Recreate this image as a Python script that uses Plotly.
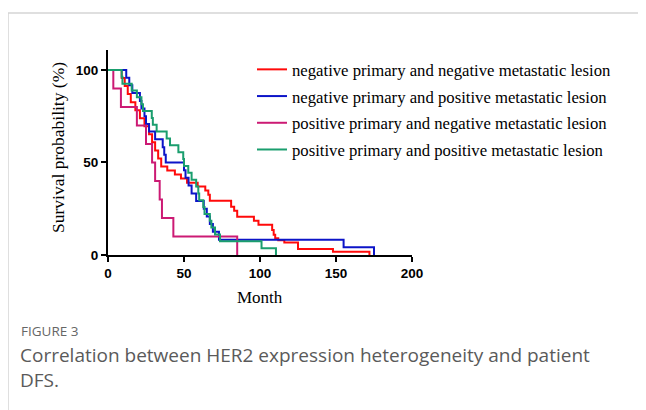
import plotly.graph_objects as go

# ---- data ----
names = [
    "negative primary and negative metastatic lesion",
    "negative primary and positive metastatic lesion",
    "positive primary and negative metastatic lesion",
    "positive primary and positive metastatic lesion",
]
colors = ["#ff0a0a", "#0c14c8", "#cc1a74", "#1a9e6e"]

red_t = [0, 9, 11, 13, 15, 18, 21, 24, 27, 29, 31, 33, 35, 39, 44, 48, 52, 59, 64, 66, 67,
         81, 83, 85, 96, 99, 108, 109, 110, 112, 116, 125, 148, 172]
red_s = [100, 95.7, 91.3, 87, 82.6, 78.3, 73.9, 69.6, 65.2, 60.9, 56.5, 52.2, 47.8, 45.7, 43.5,
         41.3, 39.1, 37, 34.8, 32.6, 29.3, 26.1, 23.9, 20.7, 18.5, 16.3, 13.5, 10.9, 9.0, 8.0,
         6.8, 3.3, 1.8, 0]

blue_t = [0, 12, 14, 16, 21, 22, 24, 25, 27, 31, 36, 37, 38, 50, 51, 53, 55, 58, 63, 65, 67,
          69, 73, 155, 175]
blue_s = [100, 95.8, 91.7, 87.5, 83.3, 79.2, 75, 70.8, 66.7, 62.5, 58.3, 54.2, 50, 45.8, 41.7,
          37.5, 33.3, 29.2, 25, 20.8, 16.7, 12.5, 8.3, 4.2, 0]

mag_t = [0, 3.5, 8.5, 19, 25, 29, 31, 34, 35.5, 43, 85]
mag_s = [100, 90, 80, 70, 60, 50, 40, 30, 20, 10, 0]

grn_t = [0, 9, 9.5, 15.6, 19, 22, 23, 28.8, 29.5, 32, 38.6, 40.8, 46.3, 49.5, 50, 52.8, 55,
         58, 59.4, 60, 62.7, 63.5, 67, 68, 70.4, 73.7, 101, 110.5]
grn_s = [100, 96.3, 92.6, 88.9, 85.2, 81.5, 77.8, 74.1, 70.4, 66.7, 63, 59.3, 55.6, 51.9,
         48.1, 44.4, 40.7, 37, 33.3, 29.6, 25.9, 22.2, 18.5, 14.8, 11.1, 7.4, 3.7, 0]

x_ticks = [0, 50, 100, 150, 200]
y_ticks = [0, 50, 100]

series = [(red_t, red_s), (blue_t, blue_s), (mag_t, mag_s), (grn_t, grn_s)]

# ---- figure ----
W, H = 646, 410
OFF = 8  # page body margin
# plot area in screen pixels: x 108..412, y 50..255
L = 108 - OFF
T = 50 - OFF
R = W - (412 - OFF)
B = H - (255 - OFF)
PW, PH = W - L - R, H - T - B


def px(x):
    return (x - OFF - L) / PW


def py(y):
    return (H - B - (y - OFF)) / PH


fig = go.Figure()
for i, ((t, s), nm, c) in enumerate(zip(series, names, colors)):
    fig.add_trace(go.Scatter(
        x=t, y=s, mode="lines", line=dict(color=c, width=2, shape="hv"),
        name=nm, legendgroup=f"g{i}",
    ))

axis_common = dict(
    showline=True, linecolor="black", linewidth=2, ticks="outside", ticklen=5,
    tickwidth=2, tickcolor="black", showgrid=False, zeroline=False,
    tickfont=dict(family="Liberation Sans", size=13.5, color="black", weight="bold"),
)

fig.update_layout(
    width=W, height=H, margin=dict(l=L, r=R, t=T, b=B, pad=0),
    paper_bgcolor="white", plot_bgcolor="white",
    xaxis=dict(range=[0, 200], tickvals=x_ticks, **axis_common),
    yaxis=dict(range=[0, 110.8], tickvals=y_ticks, **axis_common),
    legend=dict(
        x=px(252), y=py(52), xanchor="left", yanchor="top",
        font=dict(family="Liberation Serif", size=16.7, color="black"),
        tracegroupgap=2, bgcolor="rgba(0,0,0,0)", itemwidth=30,
    ),
    showlegend=True,
)

annotations = [
    dict(text="Month", x=px(260), y=py(297), xref="paper", yref="paper",
         showarrow=False, font=dict(family="Liberation Serif", size=17, color="black"),
         xanchor="center", yanchor="middle"),
    dict(text="Survival probability (%)", x=px(58), y=py(148), xref="paper", yref="paper",
         showarrow=False, textangle=-90,
         font=dict(family="Liberation Serif", size=17.5, color="black"),
         xanchor="center", yanchor="middle"),
    dict(text="FIGURE 3", x=px(19), y=py(331), xref="paper", yref="paper",
         showarrow=False, font=dict(family="Open Sans", size=13.5, color="#666666"),
         xanchor="left", yanchor="middle"),
    dict(text="Correlation between HER2 expression heterogeneity and patient", x=px(18), y=py(355),
         xref="paper", yref="paper", showarrow=False,
         font=dict(family="Open Sans", size=19, color="#5a5a5a"),
         xanchor="left", yanchor="middle"),
    dict(text="DFS.", x=px(18), y=py(380), xref="paper", yref="paper",
         showarrow=False, font=dict(family="Open Sans", size=19, color="#5a5a5a"),
         xanchor="left", yanchor="middle"),
]
fig.update_layout(annotations=annotations)

fig.add_shape(type="line", xref="paper", yref="paper", x0=px(8), x1=px(660), y0=py(13), y1=py(13),
              line=dict(color="#d4d4d4", width=1.5))
fig.add_shape(type="line", xref="paper", yref="paper", x0=px(8), x1=px(8), y0=py(13), y1=py(420),
              line=dict(color="#d4d4d4", width=1.5))

fig.write_html("out.html")
